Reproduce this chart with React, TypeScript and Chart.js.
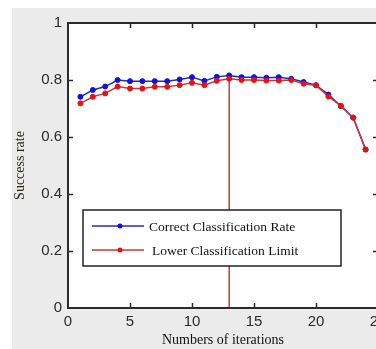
import React, { useEffect, useRef } from "react";
import { Chart, registerables } from "chart.js";

Chart.register(...registerables);

const iterations = [1, 2, 3, 4, 5, 6, 7, 8, 9, 10, 11, 12, 13, 14, 15, 16, 17, 18, 19, 20, 21, 22, 23, 24];
const correctRate = [0.741, 0.765, 0.777, 0.8, 0.796, 0.796, 0.796, 0.796, 0.802, 0.81, 0.797, 0.811, 0.816, 0.81, 0.81, 0.808, 0.81, 0.804, 0.793, 0.782, 0.749, 0.709, 0.668, 0.556];
const lowerLimit = [0.718, 0.741, 0.753, 0.777, 0.77, 0.77, 0.776, 0.776, 0.782, 0.79, 0.782, 0.797, 0.804, 0.8, 0.8, 0.798, 0.798, 0.8, 0.787, 0.781, 0.742, 0.709, 0.668, 0.556];
const markerIteration = 13;
const markerTop = 0.8;
const xTickValues = [0, 5, 10, 15, 20, 25];
const yTickValues = [0, 0.2, 0.4, 0.6, 0.8, 1];
const seriesLabels = ["Correct Classification Rate", "Lower Classification Limit"];

const framePlugin = {
  id: "matlabFrame",
  afterDatasetsDraw(chart: any) {
    const { ctx, chartArea } = chart;
    const { left, right, top, bottom } = chartArea;
    const x = chart.scales.x;
    const y = chart.scales.y;
    ctx.save();
    ctx.strokeStyle = "#2b2b2b";
    ctx.lineWidth = 2;
    ctx.strokeRect(left, top, right - left, bottom - top);
    ctx.lineWidth = 1.5;
    ctx.beginPath();
    xTickValues.slice(1, -1).forEach((v) => {
      const px = Math.round(x.getPixelForValue(v)) + 0.5;
      ctx.moveTo(px, bottom);
      ctx.lineTo(px, bottom - 5);
      ctx.moveTo(px, top);
      ctx.lineTo(px, top + 5);
    });
    yTickValues.slice(1, -1).forEach((v) => {
      const py = Math.round(y.getPixelForValue(v)) + 0.5;
      ctx.moveTo(left, py);
      ctx.lineTo(left + 5, py);
      ctx.moveTo(right, py);
      ctx.lineTo(right - 5, py);
    });
    ctx.stroke();
    ctx.restore();
  },
};

const legendPlugin = {
  id: "innerLegend",
  afterDraw(chart: any) {
    const { ctx, chartArea } = chart;
    const bx = chartArea.left + 15;
    const by = chartArea.top + 187;
    const bw = 258;
    const bh = 56;
    ctx.save();
    ctx.fillStyle = "#ffffff";
    ctx.fillRect(bx, by, bw, bh);
    ctx.strokeStyle = "#222222";
    ctx.lineWidth = 1.5;
    ctx.strokeRect(bx, by, bw, bh);
    const ds = chart.data.datasets.filter((d: any) => seriesLabels.includes(d.label));
    ds.forEach((d: any, i: number) => {
      const ry = by + 16 + i * 24;
      ctx.strokeStyle = d.borderColor;
      ctx.lineWidth = 1.5;
      ctx.beginPath();
      ctx.moveTo(bx + 9, ry);
      ctx.lineTo(bx + 61, ry);
      ctx.stroke();
      ctx.fillStyle = d.pointBackgroundColor;
      ctx.beginPath();
      ctx.arc(bx + 37, ry, 2.5, 0, Math.PI * 2);
      ctx.fill();
      ctx.fillStyle = "#111111";
      ctx.font = "13.5px 'Liberation Serif', 'Times New Roman', serif";
      ctx.textBaseline = "middle";
      ctx.textAlign = "left";
      ctx.fillText(d.label, bx + 66 + (i === 1 ? 3 : 0), ry + 1);
    });
    ctx.restore();
  },
};

export default function App() {
  const canvasRef = useRef<HTMLCanvasElement | null>(null);

  useEffect(() => {
    if (!canvasRef.current) return;
    const tickFont = { family: "'Liberation Sans', Arial, sans-serif", size: 15 };
    const titleFont = { family: "'Liberation Serif', 'Times New Roman', serif", size: 14 };
    const fmt = (v: any) => String(Math.round(Number(v) * 10) / 10);
    const chart = new Chart(canvasRef.current, {
      type: "line",
      data: {
        datasets: [
          {
            label: seriesLabels[0],
            data: iterations.map((it, i) => ({ x: it, y: correctRate[i] })),
            borderColor: "#2b2bb0",
            backgroundColor: "#1010e0",
            pointBackgroundColor: "#1010e0",
            pointBorderColor: "#1010e0",
            borderWidth: 1.5,
            pointRadius: 2.5,
            pointBorderWidth: 1,
            pointStyle: "circle",
            order: 1,
          },
          {
            label: seriesLabels[1],
            data: iterations.map((it, i) => ({ x: it, y: lowerLimit[i] })),
            borderColor: "#c43a3a",
            backgroundColor: "#e81010",
            pointBackgroundColor: "#e81010",
            pointBorderColor: "#e81010",
            borderWidth: 1.5,
            pointRadius: 2.5,
            pointBorderWidth: 1,
            pointStyle: "circle",
            order: 0,
          },
          {
            label: "marker",
            data: [
              { x: markerIteration, y: 0 },
              { x: markerIteration, y: markerTop },
            ],
            borderColor: "#b84040",
            borderWidth: 1.5,
            pointRadius: 0,
            order: 2,
          },
        ],
      },
      options: {
        animation: false,
        responsive: false,
        devicePixelRatio: 1,
        layout: { padding: { top: 14, right: 34, left: 0, bottom: 0 } },
        plugins: { legend: { display: false }, tooltip: { enabled: false } },
        scales: {
          x: {
            type: "linear",
            min: 0,
            max: 25,
            afterFit: (s: any) => {
              s.height = 41;
            },
            afterBuildTicks: (s: any) => {
              s.ticks = xTickValues.map((v) => ({ value: v }));
            },
            ticks: { autoSkip: false, maxRotation: 0, padding: 5, color: "#2a2a2a", font: tickFont, callback: fmt },
            grid: { display: false, drawTicks: false, tickLength: 0 },
            border: { display: false },
            title: { display: true, text: "Numbers of iterations", color: "#111111", font: titleFont, padding: 0 },
          },
          y: {
            type: "linear",
            min: 0,
            max: 1,
            afterFit: (s: any) => {
              s.width = 56;
            },
            afterBuildTicks: (s: any) => {
              s.ticks = yTickValues.map((v) => ({ value: v }));
            },
            ticks: { autoSkip: false, padding: 6, color: "#2a2a2a", font: tickFont, callback: fmt },
            grid: { display: false, drawTicks: false, tickLength: 0 },
            border: { display: false },
            title: { display: true, text: "Success rate", color: "#2a2418", font: titleFont, padding: 0 },
          },
        },
      },
      plugins: [framePlugin, legendPlugin],
    });
    return () => chart.destroy();
  }, []);

  return (
    <div style={{ position: "fixed", left: 0, top: 0, width: 376, height: 349, overflow: "hidden", background: "#ffffff" }}>
      <div style={{ position: "absolute", left: 12, top: 8, width: 400, height: 341, background: "#ebebeb" }}>
        <div style={{ position: "absolute", left: 56, top: 14, width: 310, height: 286, background: "#ffffff" }} />
        <canvas ref={canvasRef} width={400} height={341} style={{ position: "absolute", left: 0, top: 0, width: 400, height: 341 }} />
      </div>
    </div>
  );
}
